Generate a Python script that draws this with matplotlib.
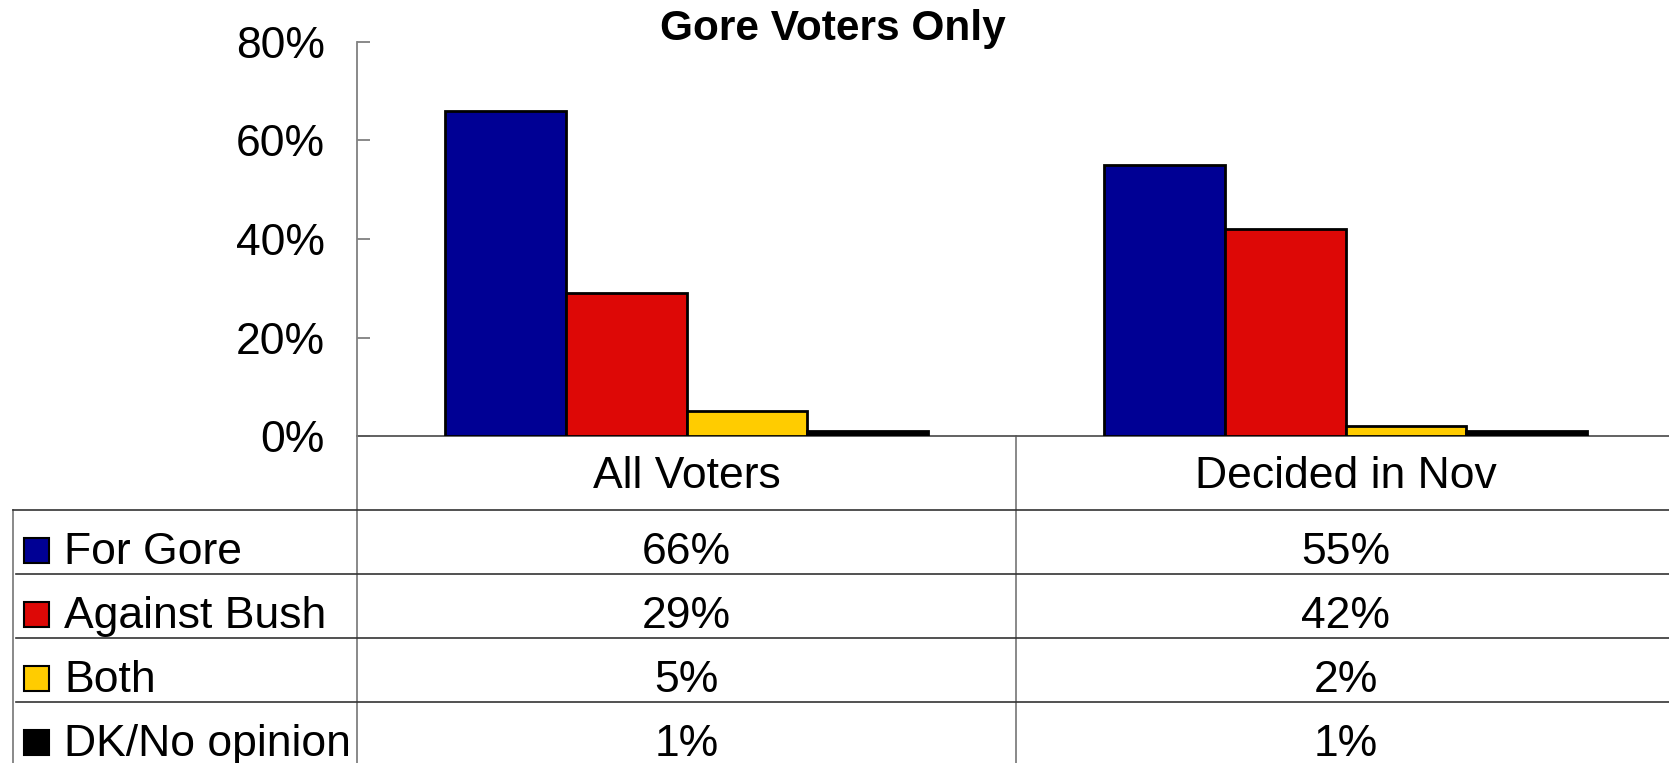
import numpy as np
import matplotlib
matplotlib.use("Agg")
import matplotlib.pyplot as plt
import matplotlib.transforms as mtransforms
from matplotlib.lines import Line2D
from matplotlib.patches import Rectangle

plt.rcParams['font.family'] = ['Liberation Sans', 'DejaVu Sans']

# data
categories = ['All Voters', 'Decided in Nov']
series = ['For Gore', 'Against Bush', 'Both', 'DK/No opinion']
for_gore = [66, 55]
against_bush = [29, 42]
both = [5, 2]
dk_no_opinion = [1, 1]
colors = ['#000094', '#dd0806', '#ffcc00', '#000000']
yticks = [0, 20, 40, 60, 80]

values = [for_gore, against_bush, both, dk_no_opinion]

W, H = 1669, 763
fig = plt.figure(figsize=(W / 100, H / 100), dpi=100)

def fx(px):
    return px / W

def fy(py):
    return 1 - py / H

# plot area: y-axis at x=357, 0% at y=436, 80% at y=42
ax_left, ax_right = 357, 1675
ax_top, ax_bot = 42, 436
ax = fig.add_axes([fx(ax_left), fy(ax_bot), (ax_right - ax_left) / W, (ax_bot - ax_top) / H])
ax.set_xlim(-0.5, 1.5)
ax.set_ylim(0, 80)

x = np.arange(len(categories))
bw = 0.183
for i, (vals, col) in enumerate(zip(values, colors)):
    ax.bar(x + (i - 1.5) * bw, vals, width=bw, color=col, edgecolor='black',
           linewidth=2.0, zorder=3)

for s in ['top', 'right']:
    ax.spines[s].set_visible(False)
ax.spines['left'].set_color('#808080')
ax.spines['left'].set_linewidth(1.3)
ax.spines['bottom'].set_color('#555555')
ax.spines['bottom'].set_linewidth(1.3)
ax.set_xticks([])
ax.set_yticks(yticks)
ax.set_yticklabels(['{}%'.format(t) for t in yticks])
ax.tick_params(axis='y', direction='in', length=9.5, width=1.3, color='#808080',
               labelsize=32, pad=23)

fig.text(fx(833), fy(29), 'Gore Voters Only', ha='center', va='center',
         fontsize=30.5, fontweight='bold')

# data table under the chart
blend = mtransforms.blended_transform_factory(ax.transData, fig.transFigure)
line_col = '#333333'
grid_col = '#808080'
row_tops = [510, 574, 638, 702]
row_h = 64

# vertical lines
fig.add_artist(Line2D([fx(357), fx(357)], [fy(ax_bot), 0], color=grid_col, lw=1.3))
fig.add_artist(Line2D([fx(13), fx(13)], [fy(510), 0], color=grid_col, lw=1.3))
ax.add_artist(Line2D([0.5, 0.5], [fy(ax_bot), 0], transform=blend, color=grid_col,
                     lw=1.3, clip_on=False))
# horizontal lines
for k, top in enumerate(row_tops):
    x0 = 13 if k == 0 else 16
    fig.add_artist(Line2D([fx(x0), 1], [fy(top), fy(top)], color=line_col, lw=1.2))

# category labels
for xi, cat in zip(x, categories):
    ax.text(xi, fy(488), cat, transform=blend, ha='center', va='baseline',
            fontsize=32, clip_on=False)

# rows: legend key, name and values
for r, (name, vals, col) in enumerate(zip(series, values, colors)):
    top = row_tops[r]
    base = top + 54
    fig.add_artist(Rectangle((fx(24), fy(top + 53)), 25 / W, 25 / H,
                             facecolor=col, edgecolor='black', lw=1.5))
    fig.text(fx(64), fy(base), name, ha='left', va='baseline', fontsize=32)
    for xi, v in zip(x, vals):
        ax.text(xi, fy(base), '{}%'.format(v), transform=blend, ha='center',
                va='baseline', fontsize=32, clip_on=False)

fig.savefig('out.png', dpi=100)
